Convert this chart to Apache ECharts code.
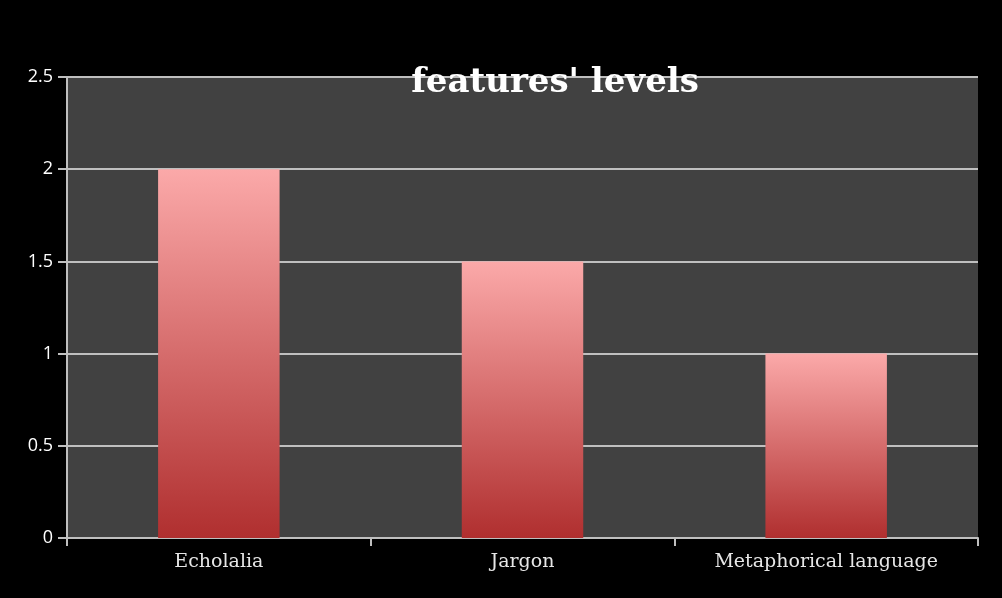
<!DOCTYPE html>
<html>
<head>
<meta charset="utf-8">
<script src="https://cdn.jsdelivr.net/npm/echarts@6/dist/echarts.min.js"></script>
<style>
  html, body { margin: 0; padding: 0; background: #000; }
  #main { width: 1002px; height: 598px; }
</style>
</head>
<body>
<div id="main"></div>
<script>
var categories = ['Echolalia', 'Jargon', 'Metaphorical language'];
var levels = [2, 1.5, 1];

var myChart = echarts.init(document.getElementById('main'));

var option = {
    backgroundColor: '#000000',
    title: {
        text: "features' levels",
        left: 550,
        textAlign: 'center',
        top: 61,
        textStyle: {
            color: '#ffffff',
            fontFamily: 'DejaVu Serif',
            fontWeight: 'bold',
            fontSize: 34
        }
    },
    grid: {
        left: 67,
        right: 24,
        top: 77,
        bottom: 60,
        show: true,
        backgroundColor: '#414141',
        borderWidth: 0
    },
    xAxis: {
        type: 'category',
        data: categories,
        axisLine: { lineStyle: { color: '#bfbfbf', width: 2 } },
        axisTick: { show: true, length: 8, lineStyle: { color: '#bfbfbf', width: 2 } },
        axisLabel: {
            color: '#e6e6e6',
            fontFamily: 'DejaVu Serif',
            fontSize: 19,
            margin: 15
        }
    },
    yAxis: {
        type: 'value',
        min: 0,
        max: 2.5,
        interval: 0.5,
        axisLine: { show: true, lineStyle: { color: '#bfbfbf', width: 2 } },
        axisTick: { show: true, length: 9, lineStyle: { color: '#bfbfbf', width: 2 } },
        splitLine: { lineStyle: { color: '#bfbfbf', width: 2 } },
        axisLabel: {
            color: '#ffffff',
            fontFamily: 'Open Sans',
            fontSize: 18,
            margin: 14
        }
    },
    series: [{
        type: 'bar',
        data: levels,
        barWidth: '40%',
        itemStyle: {
            color: new echarts.graphic.LinearGradient(0, 0, 0, 1, [
                { offset: 0, color: '#fba9a9' },
                { offset: 1, color: '#b02f2f' }
            ])
        }
    }]
};

myChart.setOption(option);
</script>
</body>
</html>
